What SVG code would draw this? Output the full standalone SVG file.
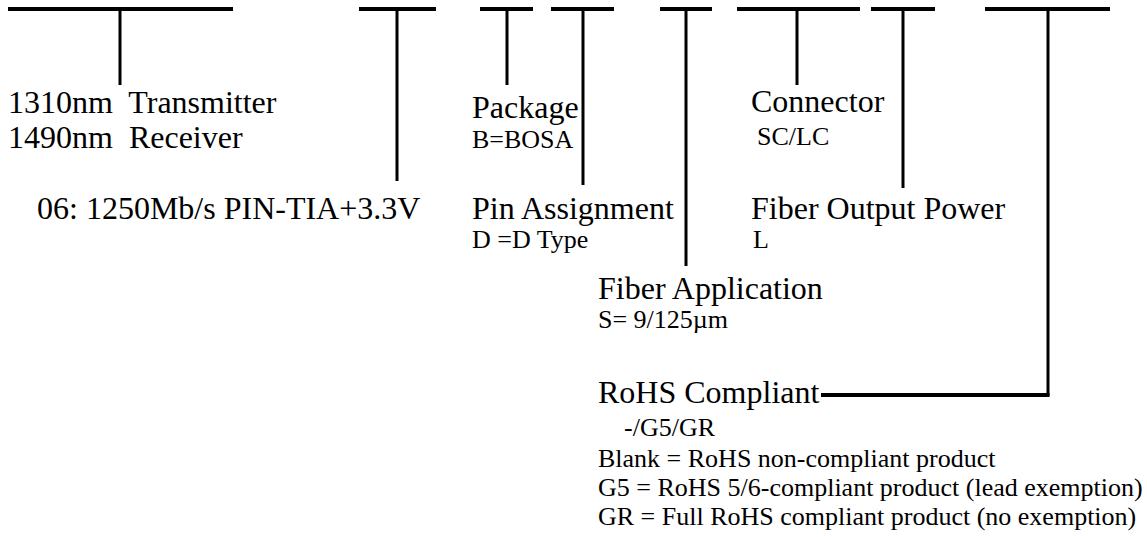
<svg xmlns="http://www.w3.org/2000/svg" width="1147" height="537" viewBox="0 0 1147 537">
<style>
.bar{stroke:#000;stroke-width:4;fill:none}
.stem{stroke:#000;stroke-width:3;fill:none}
.big{font-family:"Liberation Serif",serif;font-size:32px;fill:#000}
.small{font-family:"Liberation Serif",serif;font-size:26px;fill:#000}
</style>
<rect width="1147" height="537" fill="#fff"/>
<g id="connectors">
<line class="bar" x1="8" y1="9" x2="233" y2="9"/><line class="stem" x1="120" y1="9" x2="120" y2="85"/>
<line class="bar" x1="359" y1="9" x2="436" y2="9"/><line class="stem" x1="397" y1="9" x2="397" y2="181"/>
<line class="bar" x1="480" y1="9" x2="533" y2="9"/><line class="stem" x1="507" y1="9" x2="507" y2="85"/>
<line class="bar" x1="551" y1="9" x2="614" y2="9"/><line class="stem" x1="583" y1="9" x2="583" y2="185"/>
<line class="bar" x1="660" y1="9" x2="712" y2="9"/><line class="stem" x1="686" y1="9" x2="686" y2="266"/>
<line class="bar" x1="737" y1="9" x2="860" y2="9"/><line class="stem" x1="797" y1="9" x2="797" y2="85"/>
<line class="bar" x1="871" y1="9" x2="935" y2="9"/><line class="stem" x1="903" y1="9" x2="903" y2="188"/>
<line class="bar" x1="985" y1="9" x2="1110" y2="9"/><line class="stem" x1="1048" y1="9" x2="1048" y2="396"/>
<line class="bar" x1="821" y1="395" x2="1049.5" y2="395"/>
</g>
<g id="wavelength">
<text class="big" x="8" y="113" xml:space="preserve">1310nm  Transmitter</text>
<text class="big" x="8" y="148" xml:space="preserve">1490nm  Receiver</text>
</g>
<g id="datarate"><text class="big" x="37" y="219">06: 1250Mb/s PIN-TIA+3.3V</text></g>
<g id="package">
<text class="big" x="472" y="118">Package</text>
<text class="small" x="472" y="148">B=BOSA</text>
</g>
<g id="pin">
<text class="big" x="472" y="219">Pin Assignment</text>
<text class="small" x="472" y="248">D =D Type</text>
</g>
<g id="fiberapp">
<text class="big" x="598" y="299">Fiber Application</text>
<text class="small" x="598" y="328">S= 9/125µm</text>
</g>
<g id="connector">
<text class="big" x="751" y="112">Connector</text>
<text class="small" x="757" y="145">SC/LC</text>
</g>
<g id="power">
<text class="big" x="751" y="219">Fiber Output Power</text>
<text class="small" x="753" y="248">L</text>
</g>
<g id="rohs">
<text class="big" x="598" y="403">RoHS Compliant</text>
<text class="small" x="624" y="436">-/G5/GR</text>
<text class="small" x="598" y="467">Blank = RoHS non-compliant product</text>
<text class="small" x="598" y="496">G5 = RoHS 5/6-compliant product (lead exemption)</text>
<text class="small" x="598" y="525">GR = Full RoHS compliant product (no exemption)</text>
</g>
</svg>
